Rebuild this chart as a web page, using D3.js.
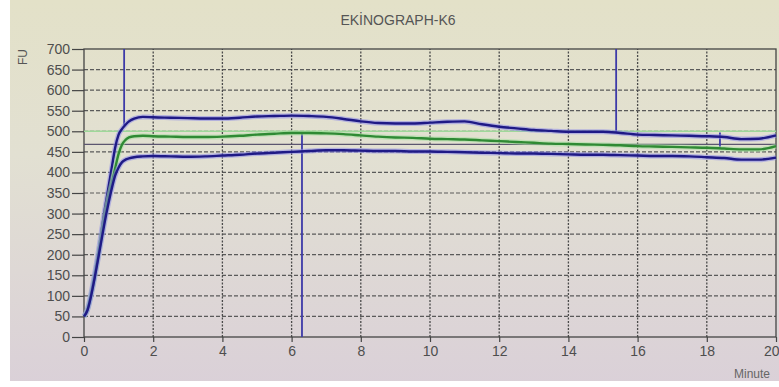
<!DOCTYPE html>
<html>
<head>
<meta charset="utf-8">
<script src="https://cdn.jsdelivr.net/npm/d3@7"></script>
<style>
  body { margin: 0; background: #fff; }
  svg { display: block; }
</style>
</head>
<body>
<svg id="chart" width="779" height="387"></svg>
<script>
// minutes
const times = [0, 0.1, 0.2, 0.3, 0.4, 0.5, 0.6, 0.7, 0.8, 0.9, 1.0, 1.1, 1.2, 1.3, 1.45, 1.7,
  2, 2.5, 3, 3.5, 4, 4.5, 5, 5.5, 6, 6.5, 7, 7.5, 8, 8.5, 9, 9.5, 10, 10.5, 11, 11.5,
  12, 12.5, 13, 13.5, 14, 14.5, 15, 15.5, 16, 16.5, 17, 17.5, 18, 18.5, 19, 19.5, 20]
// FU
const upper = [50, 68, 105, 150, 200, 255, 310, 360, 410, 460, 492, 506, 516, 524, 531, 535,
  534, 533, 532, 531, 531, 533, 536, 537, 538, 537, 535, 530, 524, 520, 519, 519, 521, 523, 524, 517,
  511, 507, 503, 501, 499, 499, 499, 496, 492, 491, 490, 489, 488, 486, 481, 482, 490]
const middle = [50, 66, 100, 142, 190, 240, 290, 335, 372, 410, 445, 468, 479, 485, 488, 489,
  488, 487, 486, 486, 487, 489, 492, 494, 496, 496, 495, 493, 490, 487, 485, 484, 482, 481, 480, 478,
  476, 474, 472, 470, 469, 468, 467, 466, 464, 463, 462, 461, 460, 458, 456, 456, 464]
const lower = [50, 65, 98, 140, 186, 233, 280, 322, 360, 392, 412, 425, 431, 434, 437, 439,
  440, 439, 438, 439, 441, 443, 446, 448, 450, 452, 454, 454, 453, 452, 452, 451, 451, 450, 449, 448,
  447, 446, 446, 445, 444, 443, 443, 442, 441, 440, 440, 439, 437, 435, 431, 431, 436]

// vertical markers
const markerTimes = [1.16, 6.3, 15.38, 18.38]
const markerFrom = [515, 0, 497, 459]
const markerTo = [700, 496, 700, 497]

const xTicks = [0, 2, 4, 6, 8, 10, 12, 14, 16, 18, 20]
const yTicks = [0, 50, 100, 150, 200, 250, 300, 350, 400, 450, 500, 550, 600, 650, 700]

const svg = d3.select("#chart")
const W = 779, H = 387

// photo-like background
const defs = svg.append("defs")
const grad = defs.append("linearGradient").attr("id", "bg")
  .attr("x1", 0).attr("y1", 0).attr("x2", 0).attr("y2", 1)
grad.append("stop").attr("offset", "0%").attr("stop-color", "#e3e1c8")
grad.append("stop").attr("offset", "40%").attr("stop-color", "#e2e0d2")
grad.append("stop").attr("offset", "100%").attr("stop-color", "#dad0d8")
svg.append("rect").attr("width", W).attr("height", H).attr("fill", "url(#bg)")

const x = d3.scaleLinear().domain([0, 20]).range([84, 776])
const y = d3.scaleLinear().domain([0, 700]).range([337, 49])

const grid = svg.append("g")
grid.selectAll(".hg").data(yTicks.slice(1, -1)).enter().append("line")
  .attr("x1", x(0)).attr("x2", x(20))
  .attr("y1", d => y(d)).attr("y2", d => y(d))
  .attr("stroke", "#5a5a5a").attr("stroke-width", 1.2)
  .attr("stroke-dasharray", "4,2")
grid.selectAll(".vg").data(xTicks.slice(1, -1)).enter().append("line")
  .attr("y1", y(0)).attr("y2", y(700))
  .attr("x1", d => x(d)).attr("x2", d => x(d))
  .attr("stroke", "#4a4a4a").attr("stroke-width", 1.3)
  .attr("stroke-dasharray", "2,1.5")

// frame
svg.append("rect").attr("x", x(0)).attr("y", y(700))
  .attr("width", x(20) - x(0)).attr("height", y(0) - y(700))
  .attr("fill", "none").attr("stroke", "#444").attr("stroke-width", 1.3)

// reference levels
svg.append("line").attr("x1", x(0)).attr("x2", x(20))
  .attr("y1", y(500)).attr("y2", y(500))
  .attr("stroke", "#9fd89a").attr("stroke-width", 1.5)
svg.append("line").attr("x1", x(0)).attr("x2", x(20))
  .attr("y1", y(468)).attr("y2", y(468))
  .attr("stroke", "#5c5670").attr("stroke-width", 1.3)

// axes
const yAxis = svg.append("g").attr("transform", "translate(" + x(0) + ",0)")
  .call(d3.axisLeft(y).tickValues(yTicks).tickSize(12).tickPadding(2))
const xAxis = svg.append("g").attr("transform", "translate(0," + y(0) + ")")
  .call(d3.axisBottom(x).tickValues(xTicks).tickSize(5).tickPadding(4))
svg.selectAll(".domain").remove()
svg.selectAll(".tick line").attr("stroke", "#444").attr("stroke-width", 1.2)
svg.selectAll(".tick text")
  .attr("fill", "#4e4e4e")
  .style("font-family", "'Liberation Sans', Arial, sans-serif")
  .style("font-size", "14px")
// last x label sits at the right edge
xAxis.selectAll(".tick text").filter(d => d === 20)
  .attr("text-anchor", "end").attr("x", 3)

// marker verticals
svg.append("g").selectAll("line").data(markerTimes).enter().append("line")
  .attr("x1", d => x(d)).attr("x2", d => x(d))
  .attr("y1", (d, i) => y(markerFrom[i])).attr("y2", (d, i) => y(markerTo[i]))
  .attr("stroke", "#3d3aa8").attr("stroke-width", 1.8)

// curves
const line = d3.line()
  .x((d, i) => x(times[i]))
  .y(d => y(d))
  .curve(d3.curveMonotoneX)

const series = [
  { v: upper, c: "#1f1a86", h: "#8c8ae8" },
  { v: middle, c: "#2f8a34", h: "#a6e0a0" },
  { v: lower, c: "#1f1a86", h: "#8c8ae8" }
]
series.forEach(s => {
  svg.append("path").datum(s.v).attr("d", line)
    .attr("fill", "none").attr("stroke", s.h).attr("stroke-width", 5)
    .attr("stroke-opacity", 0.55)
  svg.append("path").datum(s.v).attr("d", line)
    .attr("fill", "none").attr("stroke", s.c).attr("stroke-width", 2.4)
})

// texts
svg.append("text").attr("x", 398).attr("y", 25)
  .attr("text-anchor", "middle")
  .attr("fill", "#555")
  .style("font-family", "'Liberation Sans', Arial, sans-serif")
  .style("font-size", "14px")
  .text("EKİNOGRAPH-K6")
svg.append("text")
  .attr("transform", "translate(27,57) rotate(-90)")
  .attr("text-anchor", "middle")
  .attr("fill", "#555")
  .style("font-family", "'Liberation Sans', Arial, sans-serif")
  .style("font-size", "12px")
  .text("FU")
svg.append("text").attr("x", 770).attr("y", 378)
  .attr("text-anchor", "end")
  .attr("fill", "#666")
  .style("font-family", "'Liberation Sans', Arial, sans-serif")
  .style("font-size", "12px")
  .text("Minute")

// white photo borders
svg.append("rect").attr("x", 0).attr("y", 0).attr("width", 10).attr("height", H).attr("fill", "#fff")
svg.append("rect").attr("x", 0).attr("y", 381).attr("width", W).attr("height", 6).attr("fill", "#fff")
</script>
</body>
</html>
